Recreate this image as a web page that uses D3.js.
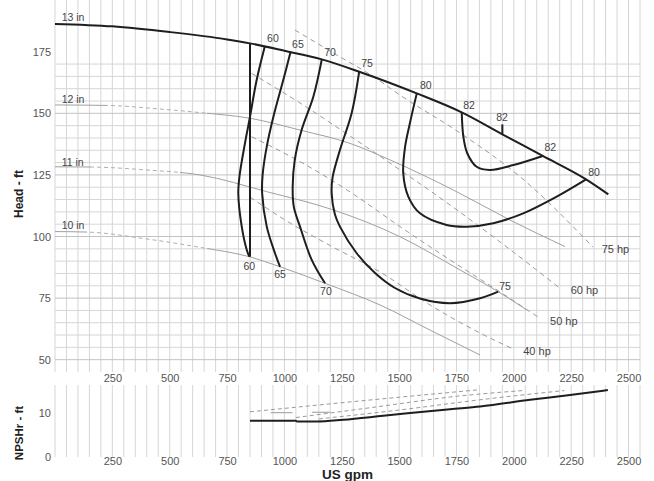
<!DOCTYPE html>
<html><head><meta charset="utf-8">
<script src="https://cdn.jsdelivr.net/npm/d3@7"></script>
<style>
body{margin:0;background:#fff}
svg{display:block}
text{font-family:"Liberation Sans",Arial,sans-serif}
</style>
</head><body><svg id="c" width="654" height="481"></svg>
<script>
// ---------- DATA ----------
const xTicks = [250,500,750,1000,1250,1500,1750,2000,2250,2500];
const headTicks = [50,75,100,125,150,175];
const npshTicks = [0,10];

// impeller head curves [gpm, ft]
const imp13 = [[0,186.3],[250,185.3],[500,183.0],[750,180.0],[850,178.4],[1000,175.4],[1163,171.9],[1326,166.9],[1577,158.1],[1773,150.4],[1950,141.5],[2126,132.7],[2315,123.2],[2412,117.1]];
const imp12 = [[0,153.4],[230,153.2],[450,151.8],[632,150.3],[850,148.0],[1068,143.2],[1286,137.8],[1460,131.1],[1736,118.9],[1983,106.7],[2223,95.9]];
const imp11 = [[0,128.3],[160,128.2],[400,127.0],[632,125.0],[923,118.2],[1213,110.8],[1504,99.9],[1766,86.4],[1932,77.6],[2056,70.2]];
const imp10 = [[0,102.0],[140,101.8],[400,99.0],[632,95.6],[847,91.8],[981,87.7],[1177,81.0],[1417,72.2],[1635,62.0],[1853,51.9]];
const impNames = ["13 in","12 in","11 in","10 in"];

// efficiency contours [gpm, ft]
const eff60v = [[850,91.8],[850,178.4]];
const eff60 = [[915,177.3],[879,163.5],[850,148.6],[828,137.8],[805,125.0],[799,117.5],[814,104.0],[836,94.5],[847,91.8]];
const eff65 = [[1027,175.0],[995,163.5],[952,148.6],[923,136.5],[905,125.0],[903,117.5],[923,104.0],[959,93.2],[981,87.7]];
const eff70 = [[1163,171.9],[1126,156.7],[1075,143.2],[1045,131.0],[1036,120.0],[1041,112.0],[1068,104.0],[1119,90.5],[1177,81.0]];
const eff75 = [[1326,166.9],[1293,150.0],[1242,135.1],[1210,124.0],[1206,117.5],[1220,109.0],[1242,104.0],[1315,93.2],[1395,85.2],[1482,79.1],[1591,74.8],[1722,72.9],[1853,74.9],[1932,77.6]];
const eff80 = [[1577,158.1],[1547,146.0],[1526,136.4],[1518,125.7],[1540,116.2],[1591,109.4],[1707,104.7],[1795,104.0],[1911,105.4],[2041,109.4],[2187,116.2],[2315,123.2]];
const eff82 = [[1773,150.4],[1780,140.5],[1797,133.8],[1838,128.3],[1896,127.0],[1998,129.0],[2126,132.7]];
const eff82tick = [[1950,141.5],[1950,145.5]];

// power lines [gpm, ft]
const hp75 = [[1046,183.8],[1228,173.7],[1388,164.9],[1504,157.4],[1766,142.0],[2027,124.3],[2345,95.7]];
const hp60 = [[857,166.2],[1068,154.2],[1286,140.8],[1504,127.0],[1722,112.8],[1940,97.8],[2201,79.0]];
const hp50 = [[857,140.5],[1068,130.4],[1286,118.1],[1504,104.0],[1722,90.5],[1940,77.5],[2114,66.8]];
const hp40 = [[850,116.0],[1003,106.7],[1212,95.7],[1417,85.6],[1635,72.2],[1853,60.8],[1998,54.3]];
const hpNames = ["75 hp","60 hp","50 hp","40 hp"];

// NPSHr curves [gpm, ft]
const npsh13 = [[850,8.2],[1050,8.2],[1055,8.0],[1140,8.0],[1257,8.4],[1431,9.3],[1722,10.8],[1853,11.4],[2071,12.9],[2245,14.0],[2410,15.1]];
const npsh12 = [[1150,8.6],[1500,10.6],[1850,12.9],[2220,15.0]];
const npsh11 = [[1050,8.9],[1400,11.3],[1750,13.7],[2040,15.0]];
const npsh10 = [[850,10.2],[1300,12.5],[1853,15.2]];
const npshStub1 = [[940,10.0],[1035,10.0]];
const npshStub2 = [[1120,10.1],[1200,10.1]];

// label anchors [gpm, ft]
const effLabels = [
  ["60",950,180.5],["65",1059,178.1],["70",1199,174.9],["75",1360,170.3],
  ["80",1616,161.4],["82",1805,153.3],["82",1949,148.4],["82",2159,136.3],["80",2350,126.3],
  ["60",847,88.0],["65",981,84.8],["70",1181,78.0],["75",1962,79.9]
];
const impLabelPos = [[29,189.0],[29,155.7],[29,130.4],[29,104.7]];
const hpLabelPos = [[2383,94.9],[2248,78.3],[2158,65.7],[2041,53.6]];

// ---------- DRAW ----------
const svg = d3.select("#c");
svg.append("rect").attr("width",654).attr("height",481).attr("fill","#fff");

const x = d3.scaleLinear().domain([0,2550]).range([55,640]);
const yH = d3.scaleLinear().domain([45,196]).range([372,0]);
const yN = d3.scaleLinear().domain([0,16.25]).range([457,385]);

// grid
const gGrid = svg.append("g");
d3.range(0,2551,50).forEach(v=>{
  gGrid.append("line").attr("x1",x(v)).attr("x2",x(v)).attr("y1",yH.range()[1]).attr("y2",yH.range()[0])
    .attr("stroke","#d6d6d6").attr("stroke-width",1);
  gGrid.append("line").attr("x1",x(v)).attr("x2",x(v)).attr("y1",yN.range()[1]).attr("y2",yN.range()[0])
    .attr("stroke","#d6d6d6").attr("stroke-width",1);
});
d3.range(50,171,5).forEach(v=>{
  gGrid.append("line").attr("x1",x.range()[0]).attr("x2",x.range()[1]).attr("y1",yH(v)).attr("y2",yH(v))
    .attr("stroke", v%25===0 ? "#c2c2c2" : "#d6d6d6").attr("stroke-width",1);
});

// axes
const fmt = d3.format("d");
const tickFont = g => g.call(s=>s.select(".domain").remove())
  .selectAll("text").attr("fill","#555").attr("font-size","11px").attr("font-family","Liberation Sans, Arial, sans-serif");
svg.append("g").attr("transform",`translate(0,${yH.range()[0]})`)
  .call(d3.axisBottom(x).tickValues(xTicks).tickFormat(fmt).tickSize(0).tickPadding(2)).call(tickFont);
svg.append("g").attr("transform",`translate(0,${yN.range()[0]})`)
  .call(d3.axisBottom(x).tickValues(xTicks).tickFormat(fmt).tickSize(0).tickPadding(0)).call(tickFont);
svg.append("g").attr("transform",`translate(${x.range()[0]},0)`)
  .call(d3.axisLeft(yH).tickValues(headTicks).tickFormat(fmt).tickSize(0).tickPadding(4)).call(tickFont);
svg.append("g").attr("transform",`translate(${x.range()[0]},0)`)
  .call(d3.axisLeft(yN).tickValues(npshTicks).tickFormat(fmt).tickSize(0).tickPadding(4)).call(tickFont);

// axis titles
svg.append("text").attr("transform","translate(23,194) rotate(-90)").attr("text-anchor","middle")
  .attr("font-size","12px").attr("font-weight","bold").attr("fill","#222").text("Head - ft");
svg.append("text").attr("transform","translate(23,433) rotate(-90)").attr("text-anchor","middle")
  .attr("font-size","11.5px").attr("font-weight","bold").attr("fill","#222").text("NPSHr - ft");
svg.append("text").attr("x",(x.range()[0]+x.range()[1])/2).attr("y",478.5).attr("text-anchor","middle")
  .attr("font-size","13.5px").attr("font-weight","bold").attr("fill","#222").text("US gpm");

// line generators
const lineM = d3.line().x(d=>x(d[0])).y(d=>yH(d[1])).curve(d3.curveMonotoneX);
const lineC = d3.line().x(d=>x(d[0])).y(d=>yH(d[1])).curve(d3.curveCatmullRom.alpha(0.5));
const lineL = d3.line().x(d=>x(d[0])).y(d=>yH(d[1]));
const lineN = d3.line().x(d=>x(d[0])).y(d=>yN(d[1])).curve(d3.curveMonotoneX);

// clip regions for dashed portions of trimmed impeller curves
const defs = svg.append("defs");
const dashRanges = [null,[230,663],[160,545],[140,663]];
dashRanges.forEach((r,i)=>{
  if(!r) return;
  defs.append("clipPath").attr("id","in"+i).append("rect")
    .attr("x",x(r[0])).attr("y",0).attr("width",x(r[1])-x(r[0])).attr("height",481);
  const out = defs.append("clipPath").attr("id","out"+i);
  out.append("rect").attr("x",0).attr("y",0).attr("width",x(r[0])).attr("height",481);
  out.append("rect").attr("x",x(r[1])).attr("y",0).attr("width",654-x(r[1])).attr("height",481);
});

// power lines
[hp75,hp60,hp50,hp40].forEach(d=>{
  svg.append("path").attr("d",lineM(d)).attr("fill","none").attr("stroke","#9a9a9a")
    .attr("stroke-width",1).attr("stroke-dasharray","5,4");
});

// trimmed impellers
[imp12,imp11,imp10].forEach((d,k)=>{
  const i=k+1;
  svg.append("path").attr("d",lineM(d)).attr("fill","none").attr("stroke","#a0a0a0")
    .attr("stroke-width",1).attr("clip-path",`url(#out${i})`);
  svg.append("path").attr("d",lineM(d)).attr("fill","none").attr("stroke","#b0b0b0")
    .attr("stroke-width",1).attr("stroke-dasharray","4,3").attr("clip-path",`url(#in${i})`);
});

// efficiency contours
[eff60,eff65,eff70,eff75,eff80,eff82].forEach(d=>{
  svg.append("path").attr("d",lineC(d)).attr("fill","none").attr("stroke","#1e1e1e").attr("stroke-width",2);
});
[eff60v,eff82tick].forEach(d=>{
  svg.append("path").attr("d",lineL(d)).attr("fill","none").attr("stroke","#1e1e1e").attr("stroke-width",2);
});

// max impeller
svg.append("path").attr("d",lineM(imp13)).attr("fill","none").attr("stroke","#1e1e1e").attr("stroke-width",2);

// labels
effLabels.forEach(l=>{
  svg.append("text").attr("x",x(l[1])).attr("y",yH(l[2])).attr("text-anchor","middle")
    .attr("dominant-baseline","central").attr("font-size","10.5px").attr("fill","#444").text(l[0]);
});
impNames.forEach((t,i)=>{
  svg.append("text").attr("x",x(impLabelPos[i][0])).attr("y",yH(impLabelPos[i][1]))
    .attr("dominant-baseline","central").attr("font-size","10.5px").attr("fill","#444").text(t);
});
hpNames.forEach((t,i)=>{
  svg.append("text").attr("x",x(hpLabelPos[i][0])).attr("y",yH(hpLabelPos[i][1]))
    .attr("dominant-baseline","central").attr("font-size","11px").attr("fill","#444").text(t);
});

// NPSHr panel
[npsh10,npsh11,npsh12].forEach(d=>{
  svg.append("path").attr("d",lineN(d)).attr("fill","none").attr("stroke","#9a9a9a")
    .attr("stroke-width",1).attr("stroke-dasharray","4,3");
});
[npshStub1,npshStub2].forEach(d=>{
  svg.append("path").attr("d",lineN(d)).attr("fill","none").attr("stroke","#9a9a9a").attr("stroke-width",1);
});
svg.append("path").attr("d",lineN(npsh13)).attr("fill","none").attr("stroke","#1e1e1e").attr("stroke-width",2);
</script>
</body></html>
